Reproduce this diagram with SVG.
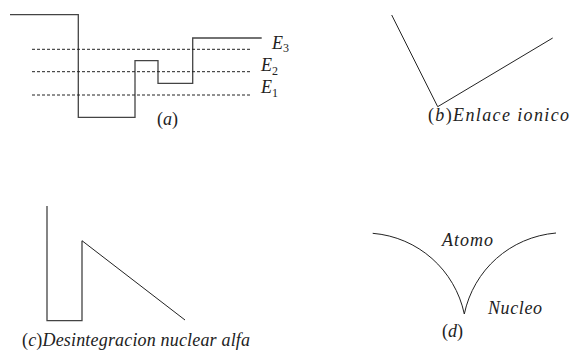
<svg xmlns="http://www.w3.org/2000/svg" width="573" height="358" viewBox="0 0 573 358">
<style>
.ln{fill:none;stroke:#444;stroke-width:1.3}
.thin{fill:none;stroke:#222;stroke-width:1}
.dot{fill:none;stroke:#222;stroke-width:1;stroke-dasharray:3,2}
text{font-family:'Liberation Serif','Times New Roman','DejaVu Serif',serif;font-style:italic;font-size:18px;fill:#222}
.s{font-size:12px}
.u{font-style:normal}
</style>
<rect width="573" height="358" fill="#fff"/>
<g id="panel-a">
<path class="ln" d="M10,14.7H78.3V117.3H135V60.7H158V83.3H192.7V38H261.7"/>
<path class="dot" d="M32,49.3H251M32,71.7H251M32,95H251"/>
<text x="272" y="48.5">E<tspan class="s u" dy="3.5">3</tspan></text>
<text x="261" y="71">E<tspan class="s u" dy="3.5">2</tspan></text>
<text x="261" y="93">E<tspan class="s u" dy="3.5">1</tspan></text>
<text x="157" y="125"><tspan class="u">(</tspan>a<tspan class="u">)</tspan></text>
</g>
<g id="panel-b">
<path class="thin" d="M391.7,15L437.7,106.7L552.7,38"/>
<text x="428" y="121" textLength="141"><tspan class="u">(</tspan>b<tspan class="u">)</tspan>Enlace  ionico</text>
</g>
<g id="panel-c">
<path class="ln" d="M47,206V320.7H82V240.7"/>
<path class="thin" d="M82,240.7L185,320"/>
<text x="22" y="346" textLength="228"><tspan class="u">(</tspan>c<tspan class="u">)</tspan>Desintegracion  nuclear  alfa</text>
</g>
<g id="panel-d">
<path class="thin" d="M372.7,233.3C418,237 455,270 464.3,314C473.6,270 510,237 556,233"/>
<text x="442" y="246" textLength="51">Atomo</text>
<text x="488" y="314" textLength="54">Nucleo</text>
<text x="442" y="337"><tspan class="u">(</tspan>d<tspan class="u">)</tspan></text>
</g>
</svg>
